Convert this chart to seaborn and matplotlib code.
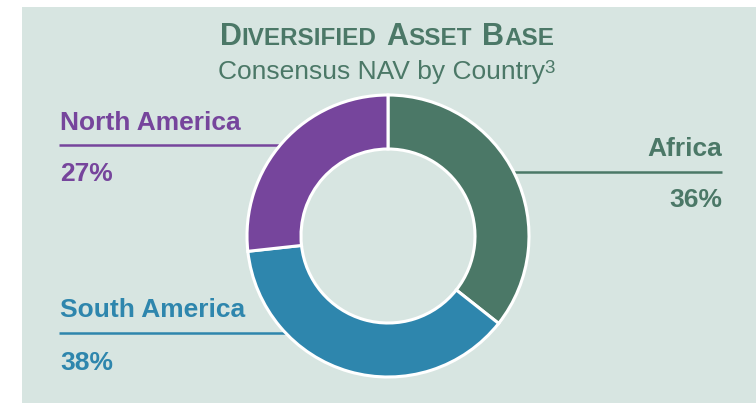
import matplotlib
matplotlib.use("Agg")
import matplotlib.pyplot as plt
import seaborn as sns
import numpy as np
from matplotlib.patches import Rectangle

# ---- data ----
regions = ["Africa", "South America", "North America"]
shares = [36, 38, 27]
share_labels = ["36%", "38%", "27%"]
title_words = [("D", "IVERSIFIED"), ("A", "SSET"), ("B", "ASE")]
subtitle = "Consensus NAV by Country"
footnote = "3"

sns.set_theme(style="white")
plt.rcParams['font.family'] = ['Liberation Sans', 'DejaVu Sans']

palette = sns.color_palette(["#4b7867", "#2e86ad", "#76459c"])
GREEN = palette[0]
BG = "#d7e5e1"

W, H = 756, 403
fig = plt.figure(figsize=(W / 100, H / 100), dpi=100)
fig.patch.set_facecolor("white")
ax = fig.add_axes([0, 0, 1, 1])


def Y(p):
    return H - p


ax.add_patch(Rectangle((22, 0), W - 22, H - 7, facecolor=BG, edgecolor="none", zorder=0))

cx, cy, R = 388, Y(236), 141
ax.pie(shares, colors=palette, startangle=90, counterclock=False, radius=R,
       center=(cx, cy), normalize=True,
       wedgeprops=dict(width=54, edgecolor="white", linewidth=2.2))
ax.set_xlim(0, W)
ax.set_ylim(0, H)
ax.set_aspect("equal")
ax.axis("off")

# ---- labels ----
layout = {
    "Africa": dict(x=722, ha="right", base=156, line=172, pct=207),
    "South America": dict(x=60, ha="left", base=317, line=333, pct=370),
    "North America": dict(x=60, ha="left", base=130, line=145, pct=181),
}
for name, lab, col in zip(regions, share_labels, palette):
    L = layout[name]
    ax.text(L["x"], Y(L["base"]), name, ha=L["ha"], va="baseline",
            fontsize=19, fontweight="bold", color=col)
    ax.text(L["x"], Y(L["pct"]), lab, ha=L["ha"], va="baseline",
            fontsize=19, fontweight="bold", color=col)
    ly = Y(L["line"])
    dx = np.sqrt(max(R ** 2 - (ly - cy) ** 2, 0))
    if L["ha"] == "right":
        xs = [cx + dx, L["x"]]
    else:
        xs = [L["x"] - 1, cx - dx]
    ax.plot(xs, [ly, ly], color=col, lw=1.8, solid_capstyle="butt", zorder=0.5)

# ---- title with small caps ----
fig.canvas.draw()
renderer = fig.canvas.get_renderer()
pieces = []
for big, small in title_words:
    t1 = ax.text(0, Y(45), big, fontsize=22, fontweight="bold", color=GREEN, va="baseline")
    t2 = ax.text(0, Y(45), small, fontsize=17.5, fontweight="bold", color=GREEN, va="baseline")
    pieces.append((t1, t2))
gap = 10
inner = 0
widths = []
for t1, t2 in pieces:
    w1 = t1.get_window_extent(renderer).width
    w2 = t2.get_window_extent(renderer).width
    widths.append((w1, w2))
total = sum(a + b + inner for a, b in widths) + gap * (len(widths) - 1)
x = 387 - total / 2
for (t1, t2), (w1, w2) in zip(pieces, widths):
    t1.set_x(x)
    t2.set_x(x + w1 + inner)
    x += w1 + w2 + inner + gap

st = ax.text(218, Y(79), subtitle, fontsize=19, color=GREEN, va="baseline", ha="left")
sw = st.get_window_extent(renderer).width
ax.text(218 + sw - 1, Y(73), footnote, fontsize=13.5, color=GREEN, va="baseline", ha="left")

fig.savefig("out.png", dpi=100, facecolor="white")
